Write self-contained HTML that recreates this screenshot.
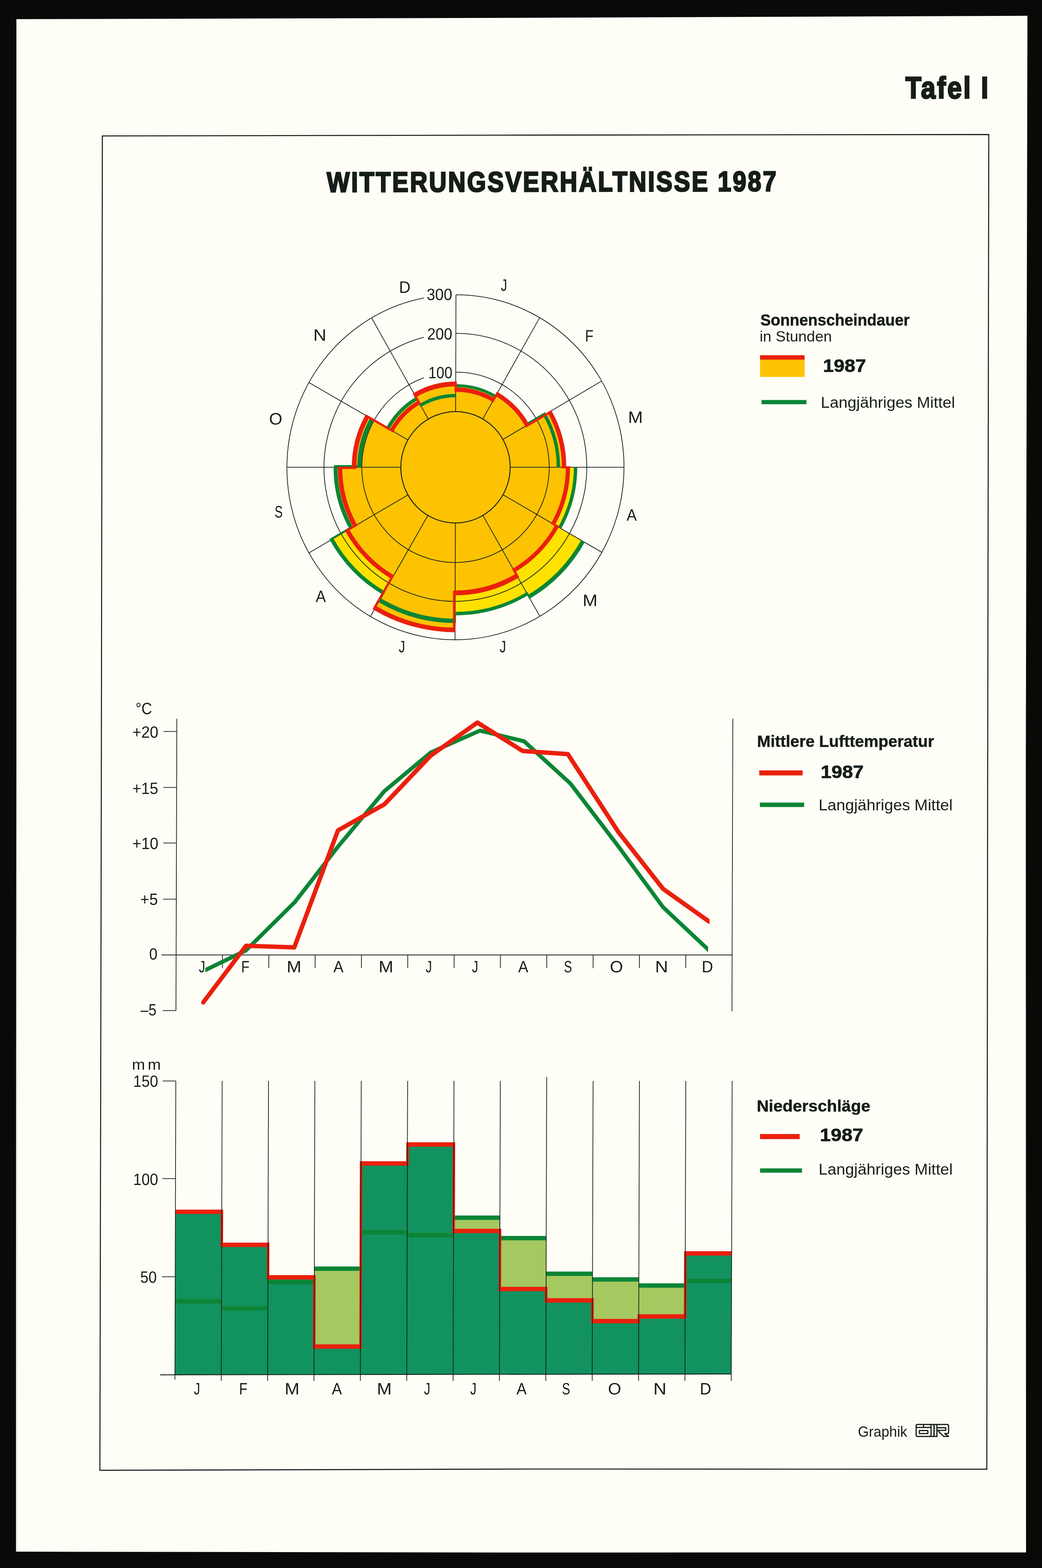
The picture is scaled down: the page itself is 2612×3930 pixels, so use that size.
<!DOCTYPE html>
<html lang="de">
<head>
<meta charset="utf-8">
<title>Tafel I – Witterungsverhältnisse 1987</title>
<style>
html,body{margin:0;padding:0;background:#070a07;}
body{width:2612px;height:3930px;overflow:hidden;}
svg{display:block;font-family:"Liberation Sans",sans-serif;fill:#161d19;}
</style>
</head>
<body>
<svg width="2612" height="3930" viewBox="0 0 2612 3930">
<rect width="2612" height="3930" fill="#070a07"/>
<polygon points="41,48 1280,44.7 2575.5,39.5 2571.4,1940 2572,3891 1280,3891.2 40,3889 41,1930" fill="#fefef7"/>
<defs><linearGradient id="edge" x1="0" x2="1" y1="0" y2="0"><stop offset="0" stop-color="#e4e5de"/><stop offset="1" stop-color="#fefef7"/></linearGradient></defs>
<polygon points="41,48 47,48 46,3889 40,3889 41,1930" fill="url(#edge)"/>
<polygon points="256.6,340.8 1320,338.6 2478.6,337.1 2475.7,2000 2473.7,3682.4 1320,3682 250.4,3685.1 253.9,2000" fill="none" stroke="#161d19" stroke-width="2.6"/>
<text transform="translate(2269.8 245.6) scale(0.86 1)" font-size="75.6" letter-spacing="4.73" font-weight="700" stroke="#161d19" stroke-width="3.6" stroke-linejoin="miter">Tafel I</text>
<text transform="translate(819.2 480.9) rotate(-0.11) scale(0.86 1)" font-size="70.6" letter-spacing="4.59" font-weight="700" stroke="#161d19" stroke-width="3.4" stroke-linejoin="miter">WITTERUNGSVERHÄLTNISSE 1987</text>
<g id="polar" transform="translate(1141.8,1171.2) matrix(1,0,-0.0026,1,0,0) translate(-1141.8,-1171.2)">
<path d="M1141.8,966.6 A200.6,204.6 0 0 1 1241.5,993.6 L1244.7,988.0 A207.0,211.1 0 0 1 1321.1,1065.6 L1377.5,1032.4 A272.2,277.6 0 0 1 1414.0,1171.2 L1442.8,1171.2 A301.0,307.0 0 0 1 1403.6,1322.6 L1461.9,1356.3 A368.0,375.4 0 0 1 1326.9,1495.6 L1322.6,1488.1 A359.5,366.7 0 0 1 1141.8,1537.9 L1141.8,1578.8 A399.6,407.6 0 0 1 941.1,1523.7 L962.5,1486.1 A357.0,364.1 0 0 1 831.9,1351.9 L880.8,1323.3 A300.6,306.6 0 0 1 841.2,1171.2 L887.5,1171.2 A254.3,259.4 0 0 1 920.4,1043.7 L972.0,1073.4 A195.0,198.9 0 0 1 1044.3,998.9 L1039.4,990.3 A204.8,208.9 0 0 1 1141.8,962.3 Z" fill="#ffe100"/>
<path d="M1141.8,976.6 A190.8,194.6 0 0 1 1236.6,1002.3 L1244.7,988.0 A207.0,211.1 0 0 1 1321.1,1065.6 L1377.5,1032.4 A272.2,277.6 0 0 1 1414.0,1171.2 L1423.7,1171.2 A281.9,287.5 0 0 1 1387.0,1313.0 L1396.6,1318.5 A292.9,298.8 0 0 1 1289.1,1429.4 L1297.0,1443.2 A308.6,314.8 0 0 1 1141.8,1486.0 L1141.8,1578.8 A399.6,407.6 0 0 1 941.1,1523.7 L985.1,1446.4 A312.0,318.2 0 0 1 870.9,1329.1 L890.5,1317.7 A289.4,295.2 0 0 1 852.4,1171.2 L887.5,1171.2 A254.3,259.4 0 0 1 920.4,1043.7 L981.6,1078.9 A184.0,187.7 0 0 1 1049.8,1008.7 L1039.4,990.3 A204.8,208.9 0 0 1 1141.8,962.3 Z" fill="#fdc302"/>
<ellipse cx="1141.8" cy="1171.2" rx="137.1" ry="139.6" fill="none" stroke="#161d19" stroke-width="2.3"/>
<path d="M1141.8,932.6 A234.9,238.6 0 1 1 1061.8,946.9" fill="none" stroke="#161d19" stroke-width="1.8"/>
<path d="M1141.8,835.4 A329.3,335.85 0 1 1 1061.8,845.4" fill="none" stroke="#161d19" stroke-width="1.8"/>
<path d="M1141.8,738.9 A422.5,432.3 0 1 1 1061.8,746.7" fill="none" stroke="#161d19" stroke-width="1.8"/>
<line x1="1141.8" y1="1031.6" x2="1141.8" y2="738.9" stroke="#161d19" stroke-width="1.8" stroke-linecap="butt"/>
<line x1="1209.9" y1="1050.1" x2="1351.8" y2="796.1" stroke="#161d19" stroke-width="1.8" stroke-linecap="butt"/>
<line x1="1260.5" y1="1101.4" x2="1507.7" y2="955.0" stroke="#161d19" stroke-width="1.8" stroke-linecap="butt"/>
<line x1="1278.9" y1="1171.2" x2="1564.3" y2="1171.2" stroke="#161d19" stroke-width="1.8" stroke-linecap="butt"/>
<line x1="1261.1" y1="1240.0" x2="1509.3" y2="1384.4" stroke="#161d19" stroke-width="1.8" stroke-linecap="butt"/>
<line x1="1210.8" y1="1291.9" x2="1354.3" y2="1544.8" stroke="#161d19" stroke-width="1.8" stroke-linecap="butt"/>
<line x1="1141.8" y1="1310.8" x2="1141.8" y2="1603.5" stroke="#161d19" stroke-width="1.8" stroke-linecap="butt"/>
<line x1="1072.9" y1="1291.9" x2="929.6" y2="1545.0" stroke="#161d19" stroke-width="1.8" stroke-linecap="butt"/>
<line x1="1022.8" y1="1240.5" x2="775.0" y2="1385.7" stroke="#161d19" stroke-width="1.8" stroke-linecap="butt"/>
<line x1="1004.7" y1="1171.2" x2="719.3" y2="1171.2" stroke="#161d19" stroke-width="1.8" stroke-linecap="butt"/>
<line x1="1022.4" y1="1102.6" x2="773.9" y2="958.7" stroke="#161d19" stroke-width="1.8" stroke-linecap="butt"/>
<line x1="1073.2" y1="1050.3" x2="930.5" y2="796.8" stroke="#161d19" stroke-width="1.8" stroke-linecap="butt"/>
<path d="M1141.8,966.6 A200.6,204.6 0 0 1 1241.5,993.6" fill="none" stroke="#0b8535" stroke-width="7.5"/>
<path d="M1244.7,988.0 A207.0,211.1 0 0 1 1321.1,1065.6" fill="none" stroke="#0b8535" stroke-width="8"/>
<path d="M1365.1,1039.7 A257.9,263.1 0 0 1 1399.7,1171.2" fill="none" stroke="#0b8535" stroke-width="8.5"/>
<path d="M1442.8,1171.2 A301.0,307.0 0 0 1 1403.6,1322.6" fill="none" stroke="#0b8535" stroke-width="8.5"/>
<path d="M1461.9,1356.3 A368.0,375.4 0 0 1 1326.9,1495.6" fill="none" stroke="#0b8535" stroke-width="10.5"/>
<path d="M1322.6,1488.1 A359.5,366.7 0 0 1 1141.8,1537.9" fill="none" stroke="#0b8535" stroke-width="8.6"/>
<path d="M1141.8,1556.1 A377.4,384.9 0 0 1 952.2,1504.1" fill="none" stroke="#0b8535" stroke-width="11"/>
<path d="M962.5,1486.1 A357.0,364.1 0 0 1 831.9,1351.9" fill="none" stroke="#0b8535" stroke-width="9.5"/>
<path d="M880.8,1323.3 A300.6,306.6 0 0 1 841.2,1171.2" fill="none" stroke="#0b8535" stroke-width="10"/>
<path d="M900.8,1171.2 A241.0,245.8 0 0 1 931.9,1050.3" fill="none" stroke="#0b8535" stroke-width="10.5"/>
<path d="M972.0,1073.4 A195.0,198.9 0 0 1 1044.3,998.9" fill="none" stroke="#0b8535" stroke-width="9"/>
<path d="M1053.7,1015.6 A176.2,179.7 0 0 1 1141.8,991.5" fill="none" stroke="#0b8535" stroke-width="8.5"/>
<path d="M1239.5,997.2 L1246.7,984.4 M1316.0,1064.9 L1367.0,1034.9 M1320.6,1484.6 L1328.9,1499.1 M1141.8,1533.8 L1141.8,1560.2 M964.5,1482.5 L950.2,1507.6 M883.5,1320.0 L827.6,1352.6 M904.8,1168.0 L837.2,1168.0 M975.5,1075.4 L928.5,1048.3 M1055.7,1019.1 L1042.3,995.4 " fill="none" stroke="#0b8535" stroke-width="4.5"/>
<path d="M1141.8,976.6 A190.8,194.6 0 0 1 1236.6,1002.3" fill="none" stroke="#ea200d" stroke-width="11"/>
<path d="M1244.7,988.0 A207.0,211.1 0 0 1 1321.1,1065.6" fill="none" stroke="#ea200d" stroke-width="11"/>
<path d="M1377.5,1032.4 A272.2,277.6 0 0 1 1414.0,1171.2" fill="none" stroke="#ea200d" stroke-width="11"/>
<path d="M1423.7,1171.2 A281.9,287.5 0 0 1 1387.0,1313.0" fill="none" stroke="#ea200d" stroke-width="10.5"/>
<path d="M1396.6,1318.5 A292.9,298.8 0 0 1 1289.1,1429.4" fill="none" stroke="#ea200d" stroke-width="10.5"/>
<path d="M1297.0,1443.2 A308.6,314.8 0 0 1 1141.8,1486.0" fill="none" stroke="#ea200d" stroke-width="12"/>
<path d="M1141.8,1578.8 A399.6,407.6 0 0 1 941.1,1523.7" fill="none" stroke="#ea200d" stroke-width="11.5"/>
<path d="M985.1,1446.4 A312.0,318.2 0 0 1 870.9,1329.1" fill="none" stroke="#ea200d" stroke-width="11"/>
<path d="M890.5,1317.7 A289.4,295.2 0 0 1 852.4,1171.2" fill="none" stroke="#ea200d" stroke-width="11"/>
<path d="M887.5,1171.2 A254.3,259.4 0 0 1 920.4,1043.7" fill="none" stroke="#ea200d" stroke-width="11.5"/>
<path d="M981.6,1078.9 A184.0,187.7 0 0 1 1049.8,1008.7" fill="none" stroke="#ea200d" stroke-width="10.5"/>
<path d="M1039.4,990.3 A204.8,208.9 0 0 1 1141.8,962.3" fill="none" stroke="#ea200d" stroke-width="12"/>
<path d="M1141.8,982.2 L1141.8,956.7 M1233.9,1007.2 L1247.4,983.1 M1316.8,1069.3 L1382.8,1030.4 M1408.5,1171.2 L1429.2,1171.2 M1382.2,1310.2 L1401.4,1321.3 M1286.4,1424.6 L1299.8,1448.1 M1139.3,1480.4 L1139.3,1584.4 M986.6,1440.8 L937.0,1527.7 M895.3,1314.9 L866.1,1331.9 M893.0,1172.7 L846.9,1172.7 M986.4,1081.7 L915.6,1040.9 M1052.5,1013.5 L1036.6,985.4 " fill="none" stroke="#ea200d" stroke-width="5.5"/>
<text transform="translate(1068.3 752.2) scale(0.939 1)" font-size="41.0">300</text>
<text transform="translate(1069.9 851.0) scale(0.920 1)" font-size="41.0">200</text>
<text transform="translate(1073.2 947.6) scale(0.881 1)" font-size="41.0">100</text>
<text transform="translate(1254.1 728.8) scale(0.770 1)" font-size="41.4">J</text>
<text transform="translate(1465.7 856.4) scale(0.830 1)" font-size="41.4">F</text>
<text transform="translate(1574.0 1059.9) scale(1.080 1)" font-size="41.4">M</text>
<text transform="translate(1571.2 1305.4) scale(0.920 1)" font-size="41.4">A</text>
<text transform="translate(1461.4 1519.3) scale(1.080 1)" font-size="41.4">M</text>
<text transform="translate(1253.8 1635.1) scale(0.770 1)" font-size="41.4">J</text>
<text transform="translate(1000.6 1635.1) scale(0.770 1)" font-size="41.4">J</text>
<text transform="translate(792.5 1508.8) scale(0.920 1)" font-size="41.4">A</text>
<text transform="translate(688.7 1297.4) scale(0.740 1)" font-size="41.4">S</text>
<text transform="translate(674.2 1063.6) scale(1.030 1)" font-size="41.4">O</text>
<text transform="translate(784.5 854.3) scale(1.100 1)" font-size="41.4">N</text>
<text transform="translate(999.1 733.9) scale(0.960 1)" font-size="41.4">D</text>
</g>
<rect x="1905.2" y="890.4" width="111.7" height="54.3" fill="#fdc302"/>
<rect x="1905.2" y="890.4" width="111.7" height="11" fill="#ea200d"/>
<text transform="translate(1905.9 816.2) scale(0.977 1)" font-size="40.1" font-weight="700" stroke="#161d19" stroke-width="0.6" stroke-linejoin="miter">Sonnenscheindauer</text>
<text transform="translate(1904.2 855.6) scale(1.013 1)" font-size="37.4">in Stunden</text>
<text transform="translate(2063.0 932.0) scale(1.090 1)" font-size="44.5" font-weight="700" stroke="#161d19" stroke-width="1.0" stroke-linejoin="miter">1987</text>
<rect x="1909" y="1002.5" width="112.5" height="10.7" fill="#0b8535"/>
<text transform="translate(2057.6 1022.4) scale(1.028 1)" font-size="39.0">Langjähriges Mittel</text>
<g id="temp" transform="matrix(1,0,-0.003,1,5.405,0)">
<line x1="443.3" y1="1801.6" x2="443.3" y2="2532.8" stroke="#161d19" stroke-width="1.8" stroke-linecap="butt"/>
<line x1="1837.0" y1="1801.6" x2="1837.0" y2="2534.8" stroke="#161d19" stroke-width="1.8" stroke-linecap="butt"/>
<line x1="410.1" y1="1833.3" x2="443.3" y2="1833.3" stroke="#161d19" stroke-width="1.8" stroke-linecap="butt"/>
<line x1="410.1" y1="1973.6" x2="443.3" y2="1973.6" stroke="#161d19" stroke-width="1.8" stroke-linecap="butt"/>
<line x1="410.1" y1="2112.9" x2="443.3" y2="2112.9" stroke="#161d19" stroke-width="1.8" stroke-linecap="butt"/>
<line x1="410.1" y1="2253.7" x2="443.3" y2="2253.7" stroke="#161d19" stroke-width="1.8" stroke-linecap="butt"/>
<line x1="410.1" y1="2532.8" x2="443.3" y2="2532.8" stroke="#161d19" stroke-width="1.8" stroke-linecap="butt"/>
<line x1="406.5" y1="2393.5" x2="1837.0" y2="2393.5" stroke="#161d19" stroke-width="1.8" stroke-linecap="butt"/>
<line x1="559.4" y1="2393.5" x2="559.4" y2="2426.6" stroke="#161d19" stroke-width="1.8" stroke-linecap="butt"/>
<line x1="675.6" y1="2393.5" x2="675.6" y2="2426.6" stroke="#161d19" stroke-width="1.8" stroke-linecap="butt"/>
<line x1="791.7" y1="2393.5" x2="791.7" y2="2426.6" stroke="#161d19" stroke-width="1.8" stroke-linecap="butt"/>
<line x1="907.9" y1="2393.5" x2="907.9" y2="2426.6" stroke="#161d19" stroke-width="1.8" stroke-linecap="butt"/>
<line x1="1024.0" y1="2393.5" x2="1024.0" y2="2426.6" stroke="#161d19" stroke-width="1.8" stroke-linecap="butt"/>
<line x1="1140.2" y1="2393.5" x2="1140.2" y2="2426.6" stroke="#161d19" stroke-width="1.8" stroke-linecap="butt"/>
<line x1="1256.3" y1="2393.5" x2="1256.3" y2="2426.6" stroke="#161d19" stroke-width="1.8" stroke-linecap="butt"/>
<line x1="1372.4" y1="2393.5" x2="1372.4" y2="2426.6" stroke="#161d19" stroke-width="1.8" stroke-linecap="butt"/>
<line x1="1488.6" y1="2393.5" x2="1488.6" y2="2426.6" stroke="#161d19" stroke-width="1.8" stroke-linecap="butt"/>
<line x1="1604.7" y1="2393.5" x2="1604.7" y2="2426.6" stroke="#161d19" stroke-width="1.8" stroke-linecap="butt"/>
<line x1="1720.9" y1="2393.5" x2="1720.9" y2="2426.6" stroke="#161d19" stroke-width="1.8" stroke-linecap="butt"/>
<text transform="translate(332.0 1849.0) scale(0.936 1)" font-size="41.0">+20</text>
<text transform="translate(332.4 1989.6) scale(0.929 1)" font-size="41.0">+15</text>
<text transform="translate(332.8 2127.6) scale(0.936 1)" font-size="41.0">+10</text>
<text transform="translate(353.0 2267.8) scale(0.947 1)" font-size="41.0">+5</text>
<text transform="translate(375.7 2404.6) scale(0.907 1)" font-size="41.0">0</text>
<text transform="translate(354.5 2544.9) scale(0.872 1)" font-size="41.0">–5</text>
<text transform="translate(339.6 1789.8) scale(0.893 1)" font-size="41.3">°C</text>
<text transform="translate(500.5 2437.2) scale(0.770 1)" font-size="41.1">J</text>
<text transform="translate(606.3 2437.2) scale(0.830 1)" font-size="41.1">F</text>
<text transform="translate(720.5 2437.2) scale(1.080 1)" font-size="41.1">M</text>
<text transform="translate(837.7 2437.2) scale(0.920 1)" font-size="41.1">A</text>
<text transform="translate(950.9 2437.2) scale(1.080 1)" font-size="41.1">M</text>
<text transform="translate(1068.9 2437.2) scale(0.770 1)" font-size="41.1">J</text>
<text transform="translate(1185.0 2437.2) scale(0.770 1)" font-size="41.1">J</text>
<text transform="translate(1300.8 2437.2) scale(0.920 1)" font-size="41.1">A</text>
<text transform="translate(1415.3 2437.2) scale(0.740 1)" font-size="41.1">S</text>
<text transform="translate(1530.6 2437.2) scale(1.030 1)" font-size="41.1">O</text>
<text transform="translate(1643.8 2437.2) scale(1.100 1)" font-size="41.1">N</text>
<text transform="translate(1760.9 2437.2) scale(0.960 1)" font-size="41.1">D</text>
<clipPath id="cg"><rect x="516.5" y="1700" width="1260.2" height="900"/></clipPath>
<clipPath id="cr"><rect x="400" y="1700" width="1380.3" height="900"/></clipPath>
<polyline points="506.9,2435.9 519.1,2430.2 618.4,2382 740.6,2260.8 847.3,2123.1 964.2,1982.8 1080.3,1885.8 1203.0,1831.2 1313.8,1857.8 1430.4,1963.9 1550.0,2120 1663.4,2273.6 1775.0,2378.2 1787.8,2389.5" fill="none" stroke="#0b8535" stroke-width="10" stroke-linejoin="round" clip-path="url(#cg)"/>
<polyline points="511.7,2512.3 618.4,2370.5 739.4,2374.6 848.1,2081.2 964.3,2015.9 1080.3,1893.5 1196.7,1811 1310.2,1882.2 1423.6,1889.9 1550.6,2084.8 1663.3,2227.7 1778.3,2309.3 1790.5,2314.7" fill="none" stroke="#ea200d" stroke-width="11" stroke-linejoin="round" clip-path="url(#cr)"/>
<circle cx="511.7" cy="2512.3" r="5.5" fill="#ea200d"/>
</g>
<text transform="translate(1897.8 1871.6) scale(1.004 1)" font-size="40.4" font-weight="700" stroke="#161d19" stroke-width="0.6" stroke-linejoin="miter">Mittlere Lufttemperatur</text>
<rect x="1903.2" y="1930.9" width="108.7" height="12.6" fill="#ea200d"/>
<text transform="translate(2057.2 1949.9) scale(1.090 1)" font-size="44.5" font-weight="700" stroke="#161d19" stroke-width="1.0" stroke-linejoin="miter">1987</text>
<rect x="1904.8" y="2011.6" width="110.9" height="11.1" fill="#0b8535"/>
<text transform="translate(2051.9 2030.7) scale(1.027 1)" font-size="39.0">Langjähriges Mittel</text>
<g id="rain" transform="matrix(1,0,-0.003,1,8.128,0)">
<polygon points="440.7,3037.3 556.9166666666666,3037.3 556.9166666666666,3445.5 440.7,3445.7" fill="#12925f"/>
<polygon points="556.9166666666666,3120 673.1333333333333,3120 673.1333333333333,3445.4 556.9166666666666,3445.5" fill="#12925f"/>
<polygon points="673.1333333333333,3201.6 789.3499999999999,3201.6 789.3499999999999,3445.2 673.1333333333333,3445.4" fill="#12925f"/>
<polygon points="789.3499999999999,3179.7 905.5666666666666,3179.7 905.5666666666666,3445.0 789.3499999999999,3445.2" fill="#a5c860"/>
<polygon points="789.3499999999999,3375.1 905.5666666666666,3375.1 905.5666666666666,3445.0 789.3499999999999,3445.2" fill="#12925f"/>
<polygon points="905.5666666666666,2915.9 1021.7833333333333,2915.9 1021.7833333333333,3444.9 905.5666666666666,3445.0" fill="#12925f"/>
<polygon points="1021.7833333333333,2868.5 1137.9999999999998,2868.5 1137.9999999999998,3444.7 1021.7833333333333,3444.9" fill="#12925f"/>
<polygon points="1137.9999999999998,3052.1 1254.2166666666665,3052.1 1254.2166666666665,3444.5 1137.9999999999998,3444.7" fill="#a5c860"/>
<polygon points="1137.9999999999998,3085.3 1254.2166666666665,3085.3 1254.2166666666665,3444.5 1137.9999999999998,3444.7" fill="#12925f"/>
<polygon points="1254.2166666666665,3103.2 1370.4333333333332,3103.2 1370.4333333333332,3444.4 1254.2166666666665,3444.5" fill="#a5c860"/>
<polygon points="1254.2166666666665,3230.7 1370.4333333333332,3230.7 1370.4333333333332,3444.4 1254.2166666666665,3444.5" fill="#12925f"/>
<polygon points="1370.4333333333332,3192.4 1486.65,3192.4 1486.65,3444.2 1370.4333333333332,3444.4" fill="#a5c860"/>
<polygon points="1370.4333333333332,3259.3 1486.65,3259.3 1486.65,3444.2 1370.4333333333332,3444.4" fill="#12925f"/>
<polygon points="1486.65,3206.7 1602.8666666666668,3206.7 1602.8666666666668,3444.0 1486.65,3444.2" fill="#a5c860"/>
<polygon points="1486.65,3311.3 1602.8666666666668,3311.3 1602.8666666666668,3444.0 1486.65,3444.2" fill="#12925f"/>
<polygon points="1602.8666666666668,3222 1719.0833333333333,3222 1719.0833333333333,3443.9 1602.8666666666668,3444.0" fill="#a5c860"/>
<polygon points="1602.8666666666668,3299.6 1719.0833333333333,3299.6 1719.0833333333333,3443.9 1602.8666666666668,3444.0" fill="#12925f"/>
<polygon points="1719.0833333333333,3141.4 1835.2999999999997,3141.4 1835.2999999999997,3443.7 1719.0833333333333,3443.9" fill="#12925f"/>
<rect x="440.7" y="3256.3" width="116.21666666666664" height="11" fill="#0b8535"/>
<rect x="556.9166666666666" y="3273.7" width="116.2166666666667" height="11" fill="#0b8535"/>
<rect x="673.1333333333333" y="3207.9" width="116.21666666666658" height="11" fill="#0b8535"/>
<rect x="789.3499999999999" y="3174.2" width="116.2166666666667" height="11" fill="#0b8535"/>
<rect x="905.5666666666666" y="3082.9" width="116.2166666666667" height="11" fill="#0b8535"/>
<rect x="1021.7833333333333" y="3090.0" width="116.21666666666647" height="11" fill="#0b8535"/>
<rect x="1137.9999999999998" y="3046.6" width="116.2166666666667" height="11" fill="#0b8535"/>
<rect x="1254.2166666666665" y="3097.7" width="116.2166666666667" height="11" fill="#0b8535"/>
<rect x="1370.4333333333332" y="3186.9" width="116.21666666666692" height="11" fill="#0b8535"/>
<rect x="1486.65" y="3201.2" width="116.2166666666667" height="11" fill="#0b8535"/>
<rect x="1602.8666666666668" y="3216.5" width="116.21666666666647" height="11" fill="#0b8535"/>
<rect x="1719.0833333333333" y="3204.8" width="116.21666666666647" height="11" fill="#0b8535"/>
<rect x="440.7" y="3031.8" width="116.21666666666664" height="11" fill="#ea200d"/>
<rect x="556.9166666666666" y="3114.5" width="116.2166666666667" height="11" fill="#ea200d"/>
<rect x="673.1333333333333" y="3196.1" width="116.21666666666658" height="11" fill="#ea200d"/>
<rect x="789.3499999999999" y="3369.6" width="116.2166666666667" height="11" fill="#ea200d"/>
<rect x="905.5666666666666" y="2910.4" width="116.2166666666667" height="11" fill="#ea200d"/>
<rect x="1021.7833333333333" y="2863.0" width="116.21666666666647" height="11" fill="#ea200d"/>
<rect x="1137.9999999999998" y="3079.8" width="116.2166666666667" height="11" fill="#ea200d"/>
<rect x="1254.2166666666665" y="3225.2" width="116.2166666666667" height="11" fill="#ea200d"/>
<rect x="1370.4333333333332" y="3253.8" width="116.21666666666692" height="11" fill="#ea200d"/>
<rect x="1486.65" y="3305.8" width="116.2166666666667" height="11" fill="#ea200d"/>
<rect x="1602.8666666666668" y="3294.1" width="116.21666666666647" height="11" fill="#ea200d"/>
<rect x="1719.0833333333333" y="3135.9" width="116.21666666666647" height="11" fill="#ea200d"/>
<rect x="553.9166666666666" y="3031.8" width="6.5" height="93.7" fill="#ea200d"/>
<rect x="670.1333333333333" y="3114.5" width="6.5" height="92.6" fill="#ea200d"/>
<rect x="786.3499999999999" y="3196.1" width="6.5" height="184.5" fill="#ea200d"/>
<rect x="902.5666666666666" y="2910.4" width="6.5" height="470.2" fill="#ea200d"/>
<rect x="1018.7833333333333" y="2863.0" width="6.5" height="58.4" fill="#ea200d"/>
<rect x="1134.9999999999998" y="2863.0" width="6.5" height="227.8" fill="#ea200d"/>
<rect x="1251.2166666666665" y="3079.8" width="6.5" height="156.4" fill="#ea200d"/>
<rect x="1367.4333333333332" y="3225.2" width="6.5" height="39.6" fill="#ea200d"/>
<rect x="1483.65" y="3253.8" width="6.5" height="63.0" fill="#ea200d"/>
<rect x="1599.8666666666668" y="3294.1" width="6.5" height="22.7" fill="#ea200d"/>
<rect x="1716.0833333333333" y="3135.9" width="6.5" height="169.2" fill="#ea200d"/>
<line x1="440.7" y1="2709.3" x2="440.7" y2="3458.0" stroke="#161d19" stroke-width="1.8" stroke-linecap="butt"/>
<line x1="556.9" y1="2709.3" x2="556.9" y2="3461.0" stroke="#161d19" stroke-width="1.8" stroke-linecap="butt"/>
<line x1="673.1" y1="2709.3" x2="673.1" y2="3461.0" stroke="#161d19" stroke-width="1.8" stroke-linecap="butt"/>
<line x1="789.3" y1="2709.3" x2="789.3" y2="3461.0" stroke="#161d19" stroke-width="1.8" stroke-linecap="butt"/>
<line x1="905.6" y1="2709.3" x2="905.6" y2="3461.0" stroke="#161d19" stroke-width="1.8" stroke-linecap="butt"/>
<line x1="1021.8" y1="2709.3" x2="1021.8" y2="3461.0" stroke="#161d19" stroke-width="1.8" stroke-linecap="butt"/>
<line x1="1138.0" y1="2709.3" x2="1138.0" y2="3461.0" stroke="#161d19" stroke-width="1.8" stroke-linecap="butt"/>
<line x1="1254.2" y1="2709.3" x2="1254.2" y2="3461.0" stroke="#161d19" stroke-width="1.8" stroke-linecap="butt"/>
<line x1="1370.4" y1="2699.5" x2="1370.4" y2="3461.0" stroke="#161d19" stroke-width="1.8" stroke-linecap="butt"/>
<line x1="1486.7" y1="2709.3" x2="1486.7" y2="3461.0" stroke="#161d19" stroke-width="1.8" stroke-linecap="butt"/>
<line x1="1602.9" y1="2709.3" x2="1602.9" y2="3461.0" stroke="#161d19" stroke-width="1.8" stroke-linecap="butt"/>
<line x1="1719.1" y1="2709.3" x2="1719.1" y2="3461.0" stroke="#161d19" stroke-width="1.8" stroke-linecap="butt"/>
<line x1="1835.3" y1="2709.3" x2="1835.3" y2="3461.0" stroke="#161d19" stroke-width="1.8" stroke-linecap="butt"/>
<line x1="403.6" y1="3445.8" x2="1835.3" y2="3443.7" stroke="#161d19" stroke-width="2.2" stroke-linecap="butt"/>
<line x1="407.6" y1="2709.3" x2="440.7" y2="2709.3" stroke="#161d19" stroke-width="1.8" stroke-linecap="butt"/>
<text transform="translate(333.9 2723.9) scale(0.914 1)" font-size="41.0">150</text>
<line x1="407.6" y1="2954.2" x2="440.7" y2="2954.2" stroke="#161d19" stroke-width="1.8" stroke-linecap="butt"/>
<text transform="translate(334.6 2970.4) scale(0.914 1)" font-size="41.0">100</text>
<line x1="407.6" y1="3200.1" x2="440.7" y2="3200.1" stroke="#161d19" stroke-width="1.8" stroke-linecap="butt"/>
<text transform="translate(353.1 3215.1) scale(0.904 1)" font-size="41.0">50</text>
<text transform="translate(330.6 2681.0) scale(1.06 1)" font-size="37.2" letter-spacing="6.40">mm</text>
<text transform="translate(488.0 3494.8) scale(0.770 1)" font-size="41.3">J</text>
<text transform="translate(601.5 3494.8) scale(0.830 1)" font-size="41.3">F</text>
<text transform="translate(715.8 3494.8) scale(1.080 1)" font-size="41.3">M</text>
<text transform="translate(834.0 3494.8) scale(0.920 1)" font-size="41.3">A</text>
<text transform="translate(947.0 3494.8) scale(1.080 1)" font-size="41.3">M</text>
<text transform="translate(1065.0 3494.8) scale(0.770 1)" font-size="41.3">J</text>
<text transform="translate(1180.8 3494.8) scale(0.770 1)" font-size="41.3">J</text>
<text transform="translate(1297.1 3494.8) scale(0.920 1)" font-size="41.3">A</text>
<text transform="translate(1411.1 3494.8) scale(0.740 1)" font-size="41.3">S</text>
<text transform="translate(1526.4 3494.8) scale(1.030 1)" font-size="41.3">O</text>
<text transform="translate(1640.1 3494.8) scale(1.100 1)" font-size="41.3">N</text>
<text transform="translate(1756.5 3494.8) scale(0.960 1)" font-size="41.3">D</text>
</g>
<text transform="translate(1896.9 2785.8) scale(1.031 1)" font-size="40.4" font-weight="700" stroke="#161d19" stroke-width="0.6" stroke-linejoin="miter">Niederschläge</text>
<rect x="1905.2" y="2842.3" width="99.4" height="12.7" fill="#ea200d"/>
<text transform="translate(2055.3 2859.5) scale(1.098 1)" font-size="44.5" font-weight="700" stroke="#161d19" stroke-width="1.0" stroke-linejoin="miter">1987</text>
<rect x="1905.2" y="2928.4" width="105.2" height="10.8" fill="#0b8535"/>
<text transform="translate(2051.9 2943.8) scale(1.028 1)" font-size="39.0">Langjähriges Mittel</text>
<text transform="translate(2150.6 3600.6) scale(0.964 1)" font-size="36.6">Graphik</text>
<g id="logo" fill="none" stroke="#161d19" stroke-width="3" stroke-linejoin="round">
<rect x="2296.5" y="3570.2" width="37.4" height="30" rx="3"/>
<path d="M2296.5,3577.8 H2333.9 M2315.1,3570.2 V3577.8"/>
<rect x="2304.4" y="3585.5" width="21.5" height="7.5" rx="1"/>
<path d="M2341.4,3570 V3600.4" stroke-width="3.4"/>
<path d="M2330,3570.2 H2350 M2330,3600.2 H2348.6"/>
<path d="M2348.6,3601.7 V3570.2 H2373.8 Q2377.8,3570.2 2377.8,3574.2 V3589.3 Q2377.8,3593 2374,3593 H2368 L2377.6,3600.3 H2365.6 L2352,3586.6"/>
<path d="M2348.6,3578.4 H2370.7 V3585.1 H2348.6"/>
</g>
</svg>
</body>
</html>
